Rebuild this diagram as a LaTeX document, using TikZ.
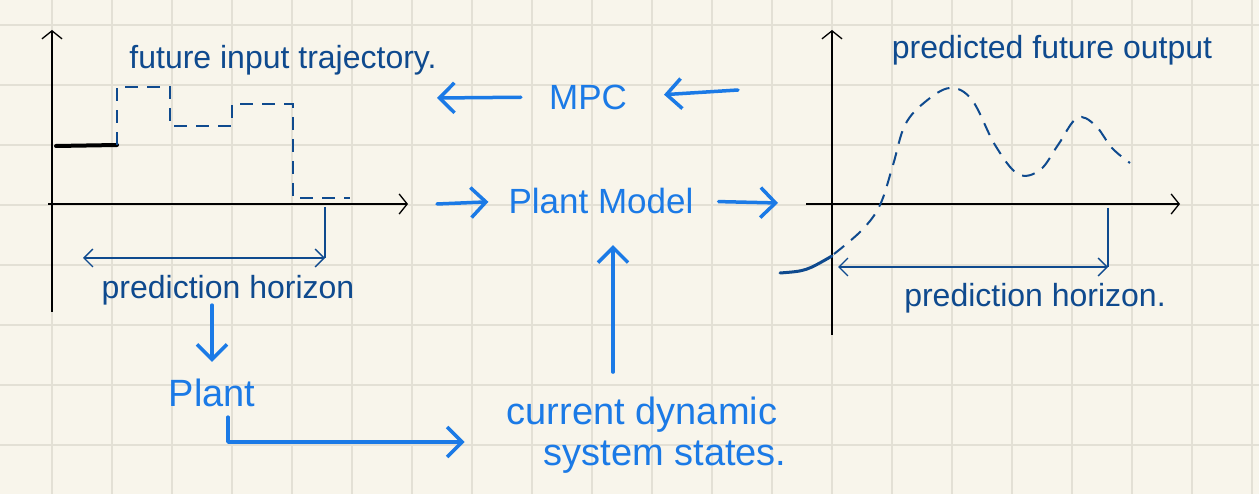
\documentclass[tikz,border=0pt]{standalone}
\usepackage{fontspec}
\setmainfont{Liberation Sans}
\usetikzlibrary{arrows.meta}
\definecolor{paper}{HTML}{F8F5EB}
\definecolor{gridline}{HTML}{E3E0D5}
\definecolor{ink}{HTML}{1B7AE6}
\definecolor{pen}{HTML}{0F4A8E}
\tikzset{
  flow/.style={ink, line width=3.5pt, line cap=round, line join=round,
    -{Straight Barb[length=15pt,width=30pt]}},
  axis/.style={black, line width=1.3pt, -{Straight Barb[length=8pt,width=20pt]}},
  span/.style={pen, line width=1.4pt,
    {Straight Barb[length=9pt,width=18pt]}-{Straight Barb[length=9pt,width=18pt]}},
  note/.style={pen, inner sep=0pt, font=\fontsize{32}{34}\selectfont},
  hand/.style={ink, inner sep=0pt, font=\fontsize{35}{38}\selectfont},
  dashes/.style={pen, line width=2pt, dash pattern=on 13pt off 9pt},
}
\begin{document}
\begin{tikzpicture}[x=1pt, y=-1pt]
	% Paper
	\useasboundingbox[fill=paper] (0,0) rectangle (1259,494);
	\foreach \gx in {52,112,...,1252}
		\draw[gridline, line width=2.5pt] (\gx,0) -- (\gx,494);
	\foreach \gy in {25,85,...,445}
		\draw[gridline, line width=2.5pt] (0,\gy) -- (1259,\gy);
	
	% Input chart
	\draw[axis] (52,312) -- (52,30);
	\draw[axis] (48,204) -- (408,204);
	\draw[black, line width=4pt, line cap=round] (56,146) -- (117,145);
	\draw[dashes] (117,145) -- (117,87) -- (170,87) -- (170,126) -- (232,126)
		-- (232,104) -- (293,104) -- (293,198) -- (350,198);
	\draw[pen, line width=1.4pt] (325,207) -- (325,258);
	\draw[span] (83,258) -- (325,258);
	\node[note] (inlbl) at (283,60) {future input trajectory.};
	\node[note] (hzl) at (228,290) {prediction horizon};
	
	% Output chart
	\draw[axis] (832,335) -- (832,30);
	\draw[axis] (806,204) -- (1180,204);
	\draw[pen, line width=3pt, line cap=round] (780,273) .. controls (806,271) .. (832,256);
	\draw[dashes] plot[smooth, tension=0.6] coordinates {(834,254) (862,230) (880,205)
		(893,165) (905,125) (925,102) (950,88) (972,100) (995,145) (1018,174)
		(1040,170) (1058,145) (1077,118) (1095,125) (1112,148) (1130,163)};
	\draw[pen, line width=1.4pt] (1108,208) -- (1108,267);
	\draw[span] (838,267) -- (1108,267);
	\node[note] (outlbl) at (1052,50) {predicted future output};
	\node[note] (hzr) at (1035,298) {prediction horizon.};
	
	% Blocks
	\node[hand] (mpc) at (588,97) {MPC};
	\node[hand] (model) at (601,201) {Plant Model};
	\node[hand, font=\fontsize{38}{40}\selectfont] (plant) at (212,393) {Plant};
	\node[hand, font=\fontsize{38}{40}\selectfont] (cur) at (642,415) {current dynamic};
	\node[hand, font=\fontsize{38}{40}\selectfont] (sys) at (665,457) {system states.};
	
	% Free ends
	\coordinate (uin) at (437,98);
	\coordinate (yout) at (738,90);
	\coordinate (xin) at (437,204);
	\coordinate (yhat) at (778,203);
	\coordinate (stem) at (613,0);
	
	% Arrows
	\draw[flow, shorten <=28pt] (mpc.west) -- (uin);
	\draw[flow, shorten >=37pt] (yout) -- (mpc.east);
	\draw[flow, shorten >=20pt] (xin) -- (model.west);
	\draw[flow, shorten <=25pt] (model.east) -- (yhat);
	\draw[flow, shorten <=25pt, shorten >=31pt] (cur.north -| stem) -- (model.south -| stem);
	\draw[flow, shorten >=17pt] (hzl.south -| plant) -- (plant.north);
	\draw[flow, shorten >=42pt] ([xshift=16pt,yshift=-10pt]plant.south) |- (cur.west |- 0,442);
\end{tikzpicture}
\end{document}
